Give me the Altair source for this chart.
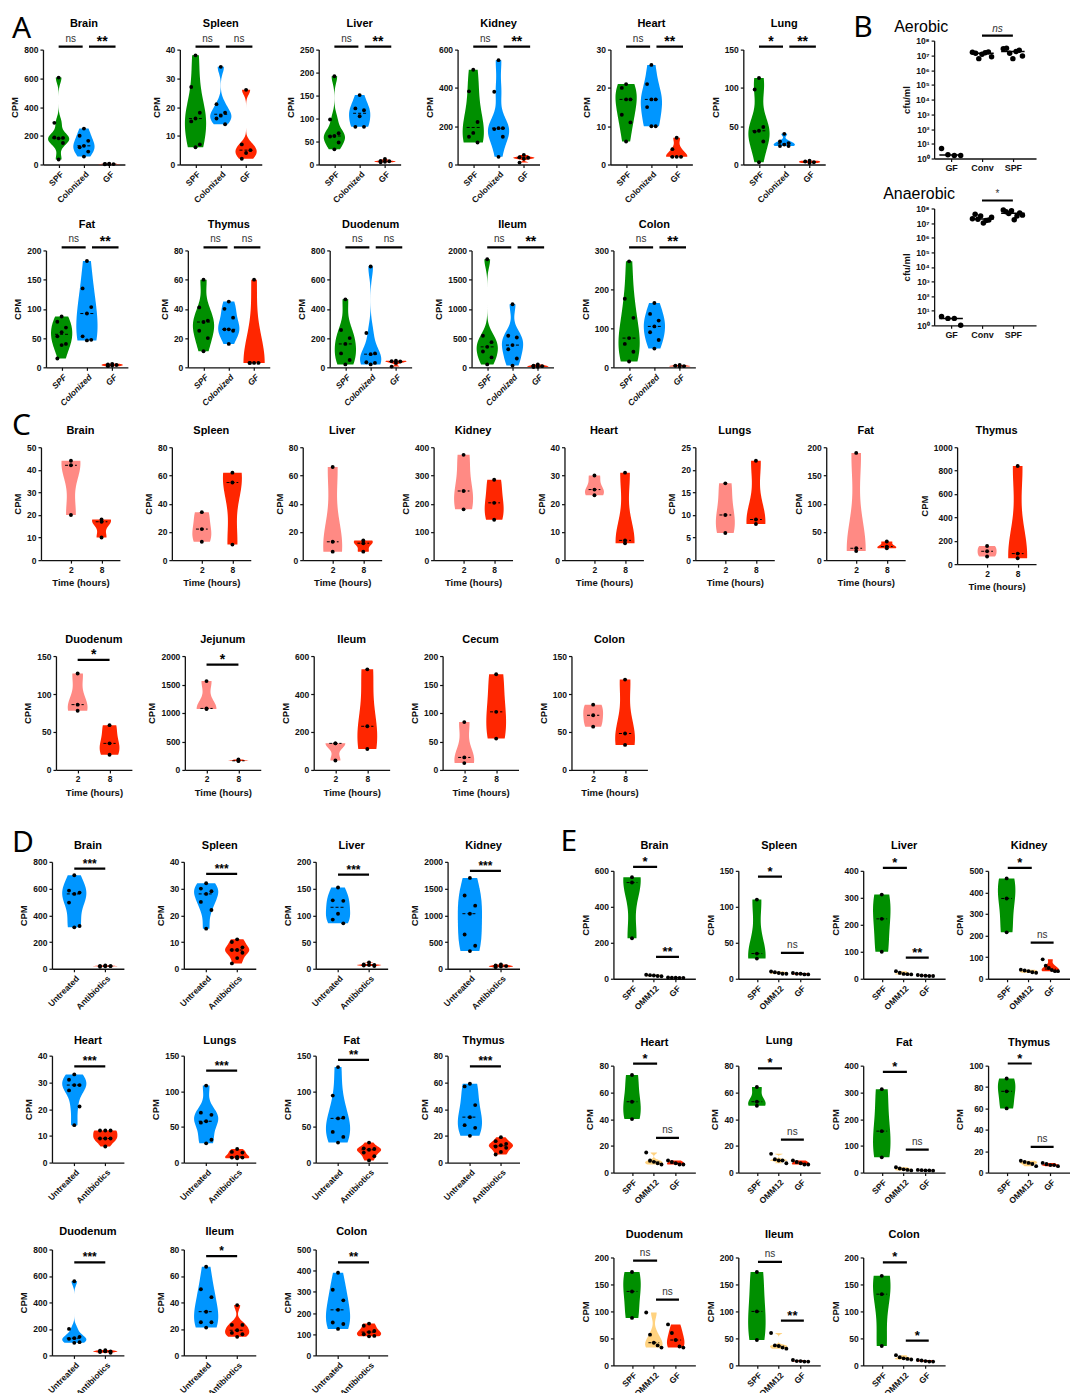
import json
import statistics
import altair as alt
from altair.utils import schemapi

try:
    schemapi.disable_debug_mode()
except Exception:
    schemapi.DEBUG_MODE = False

FONT = "Liberation Sans"
LETTER_FONT = "Noto Sans"
GREEN = "#008F00"
BLUE = "#0096FF"
RED = "#FF2600"
PINK = "#FF8A84"
YELLOW = "#FFD27F"

A_GROUPS = ["SPF", "Colonized", "GF"]
B_GROUPS = ["GF", "Conv", "SPF"]
C_GROUPS = ["2", "8"]
D_GROUPS = ["Untreated", "Antibiotics"]
E_GROUPS = ["SPF", "OMM12", "GF"]

# ---------------- A: SPF / Colonized / GF ----------------
A_BRAIN = [[605, 290, 185, 182, 188, 150, 35], [250, 200, 165, 130, 120, 90, 55], [5, 4, 3, 2, 2]]
A_SPLEEN = [[38, 27, 18, 16, 15, 7, 6], [34, 21, 18, 17, 16, 14], [26, 7, 5, 4, 2]]
A_LIVER = [[192, 98, 68, 62, 61, 48, 33], [151, 122, 118, 105, 82, 82], [12, 8, 7, 6, 5]]
A_KIDNEY = [[495, 382, 222, 165, 145, 115], [545, 380, 190, 190, 185, 145, 40], [50, 38, 35, 30, 10]]
A_HEART = [[21, 20, 17, 17, 13, 11, 6], [26, 21, 17, 17, 15, 10, 10], [7, 4, 2, 2, 2]]
A_LUNG = [[113, 98, 49, 44, 43, 30, 3], [40, 30, 28, 26, 24, 24], [5, 4, 3, 2]]
A_FAT = [[87, 78, 68, 60, 53, 40, 38, 15], [182, 135, 103, 92, 53, 47, 46], [6, 5, 4, 3, 2]]
A_THYMUS = [[60, 41, 32, 31, 25, 20, 11], [45, 40, 34, 26, 26, 25, 16], [60, 3, 3, 3, 3]]
A_DUODENUM = [[465, 255, 200, 160, 95, 50, 20], [690, 235, 95, 90, 35, 30, 20], [45, 42, 40, 30, 5]]
A_ILEUM = [[1850, 540, 430, 350, 270, 170, 50], [1080, 540, 510, 380, 310, 150, 30], [50, 30, 20, 10, 5]]
A_COLON = [[272, 176, 127, 75, 60, 40, 15], [165, 137, 120, 105, 90, 70, 48], [6, 4, 3, 2]]

# ---------------- B: cfu/ml ----------------
B_AEROBIC = [[4.8, 1.8, 1.6, 1.6],
             [1.6e7, 1.4e7, 6e6, 1.2e7, 1.5e7, 1.7e7, 8e6],
             [2.8e7, 3e7, 1.4e7, 6e6, 1.8e7, 2.2e7, 9e6]]
B_ANAEROBIC = [[4, 3, 3, 1],
               [2e7, 4e7, 1.8e7, 3e7, 1e7, 1.5e7, 1.6e7, 2.5e7],
               [8e7, 6e7, 4.5e7, 7e7, 1.7e7, 3e7, 5e7, 3.5e7]]

# ---------------- C: 2 h / 8 h ----------------
C_BRAIN = [[44, 42, 20], [18, 17, 10]]
C_SPLEEN = [[34, 22, 13], [62, 55, 11]]
C_LIVER = [[66, 13, 6], [14, 12, 6]]
C_KIDNEY = [[373, 245, 180], [285, 203, 143]]
C_HEART = [[30, 25, 23], [31, 7, 6]]
C_LUNGS = [[17, 10, 6], [22, 9, 8]]
C_FAT = [[190, 21, 16], [33, 24, 21]]
C_THYMUS = [[155, 110, 65], [840, 90, 50]]
C_DUODENUM = [[127, 86, 78], [59, 35, 20]]
C_JEJUNUM = [[1560, 1080, 1070], [185, 160, 155]]
C_ILEUM = [[140, 140, 50], [530, 230, 110]]
C_CECUM = [[84, 22, 12], [168, 102, 55]]
C_COLON = [[86, 72, 57], [119, 48, 33]]

# ---------------- D: Untreated / Antibiotics ----------------
D_BRAIN = [[700, 585, 570, 560, 495, 320, 310], [25, 22, 20, 18, 15, 20]]
D_SPLEEN = [[32, 30, 29, 28, 25, 22, 15], [11, 10, 8, 7, 7, 6, 4, 2]]
D_LIVER = [[152, 128, 127, 103, 92, 85], [12, 8, 7, 7, 6, 5]]
D_KIDNEY = [[1700, 1370, 1180, 1030, 640, 430, 330], [80, 60, 50, 40, 30]]
D_HEART = [[33, 31, 29, 29, 27, 21, 14], [12, 12, 12, 9, 9, 9, 6]]
D_LUNGS = [[108, 70, 67, 58, 56, 32, 27], [19, 15, 14, 8, 7, 7, 6]]
D_FAT = [[134, 94, 63, 62, 43, 36, 28], [28, 20, 19, 18, 14, 9, 3]]
D_THYMUS = [[59, 57, 43, 34, 28, 26, 20], [19, 16, 14, 13, 12, 11, 8, 6]]
D_DUODENUM = [[560, 200, 140, 130, 125, 100, 95], [40, 35, 30, 30, 25, 20]]
D_ILEUM = [[67, 50, 44, 33, 25, 25, 21], [38, 23, 23, 19, 17, 16, 14]]
D_COLON = [[390, 310, 260, 215, 155, 148, 125], [150, 140, 115, 110, 100, 92, 90]]

# ---------------- E: SPF / OMM12 / GF ----------------
E_BRAIN = [[565, 535, 225], [22, 20, 18, 15, 14], [7, 6, 6, 5, 5]]
E_SPLEEN = [[110, 35, 28], [10, 9, 8, 7, 7], [8, 7, 7, 6, 6]]
E_LIVER = [[312, 222, 100], [28, 22, 18, 17, 16], [14, 12, 11, 10, 10]]
E_KIDNEY = [[465, 372, 215], [42, 38, 35, 30, 28], [90, 60, 50, 40, 35, 35]]
E_HEART = [[73, 53, 40], [15, 9, 8, 7, 6], [9, 8, 7, 6, 6]]
E_LUNG = [[64, 53, 50], [14, 10, 9, 9, 7], [9, 8, 7, 6, 6]]
E_FAT = [[312, 155, 57], [20, 15, 12, 10, 8], [10, 9, 8, 8, 7]]
E_THYMUS = [[88, 76, 60], [11, 10, 9, 8, 6], [9, 8, 7, 7, 6]]
E_DUODENUM = [[173, 137, 88], [98, 57, 42, 37, 33], [76, 60, 47, 35, 33]]
E_ILEUM = [[173, 100, 47], [60, 37, 36, 33, 31], [10, 8, 8, 7, 7]]
E_COLON = [[166, 132, 36], [19, 15, 13, 12, 11], [10, 9, 8, 7, 7]]

# panel specs: (title, data, y max, y step, significance)
A_ROW1 = [("Brain", A_BRAIN, 800, 200, ("ns", "**")), ("Spleen", A_SPLEEN, 40, 10, ("ns", "ns")),
          ("Liver", A_LIVER, 250, 50, ("ns", "**")), ("Kidney", A_KIDNEY, 600, 200, ("ns", "**")),
          ("Heart", A_HEART, 30, 10, ("ns", "**")), ("Lung", A_LUNG, 150, 50, ("*", "**"))]
A_ROW2 = [("Fat", A_FAT, 200, 50, ("ns", "**")), ("Thymus", A_THYMUS, 80, 20, ("ns", "ns")),
          ("Duodenum", A_DUODENUM, 800, 200, ("ns", "ns")), ("Ileum", A_ILEUM, 2000, 500, ("ns", "**")),
          ("Colon", A_COLON, 300, 100, ("ns", "**"))]
C_ROW1 = [("Brain", C_BRAIN, 50, 10, []), ("Spleen", C_SPLEEN, 80, 20, []), ("Liver", C_LIVER, 80, 20, []),
          ("Kidney", C_KIDNEY, 400, 100, []), ("Heart", C_HEART, 40, 10, []), ("Lungs", C_LUNGS, 25, 5, []),
          ("Fat", C_FAT, 200, 50, []), ("Thymus", C_THYMUS, 1000, 200, [])]
C_ROW2 = [("Duodenum", C_DUODENUM, 150, 50, [("*", 145)]), ("Jejunum", C_JEJUNUM, 2000, 500, [("*", 1850)]),
          ("Ileum", C_ILEUM, 600, 200, []), ("Cecum", C_CECUM, 200, 50, []), ("Colon", C_COLON, 150, 50, [])]
D_ROW1 = [("Brain", D_BRAIN, 800, 200, [("***", 750)]), ("Spleen", D_SPLEEN, 40, 10, [("***", 35.5)]),
          ("Liver", D_LIVER, 200, 50, [("***", 176)]), ("Kidney", D_KIDNEY, 2000, 500, [("***", 1830)])]
D_ROW2 = [("Heart", D_HEART, 40, 10, [("***", 36)]), ("Lungs", D_LUNGS, 150, 50, [("***", 129)]),
          ("Fat", D_FAT, 150, 50, [("**", 144)]), ("Thymus", D_THYMUS, 80, 20, [("***", 72)])]
D_ROW3 = [("Duodenum", D_DUODENUM, 800, 200, [("***", 702)]), ("Ileum", D_ILEUM, 80, 20, [("*", 75)]),
          ("Colon", D_COLON, 500, 100, [("**", 439)])]
E_ROW1 = [("Brain", E_BRAIN, 600, 200, [("*", 622), ("**", 122)]), ("Spleen", E_SPLEEN, 150, 50, [("*", 142), ("ns", 36)]),
          ("Liver", E_LIVER, 400, 100, [("*", 411), ("**", 78)]), ("Kidney", E_KIDNEY, 500, 100, [("*", 514), ("ns", 167)])]
E_ROW2 = [("Heart", E_HEART, 80, 20, [("*", 81.5), ("ns", 26)]), ("Lung", E_LUNG, 80, 20, [("*", 78), ("ns", 24.7)]),
          ("Fat", E_FAT, 400, 100, [("*", 377), ("ns", 86)]), ("Thymus", E_THYMUS, 100, 20, [("*", 102), ("ns", 24)])]
E_ROW3 = [("Duodenum", E_DUODENUM, 200, 50, [("ns", 194), ("ns", 122)]), ("Ileum", E_ILEUM, 200, 50, [("ns", 192), ("**", 83)]),
          ("Colon", E_COLON, 200, 50, [("*", 191), ("*", 46)])]

SUP_EXPR = "'10' + ['⁰','¹','²','³','⁴','⁵','⁶','⁷','⁸'][round(log(datum.value) / LN10)]"

ROWS = []
VALS = alt.NamedData(name="vals")
_pid_counter = [0]


def register(values):
    _pid_counter[0] += 1
    pid = "p%d" % _pid_counter[0]
    for gi, vals in enumerate(values):
        for k, v in enumerate(vals):
            ROWS.append({"pid": pid, "gi": gi, "k": k, "n": len(vals), "v": v})
    return pid


def inline(records):
    return alt.InlineData(values=records)


def trec(x, y, t, fs, fw="bold", ff=FONT, al="center", fst="normal", col="black", bl="alphabetic"):
    return {"x": x, "y": y, "t": t, "fs": fs, "fw": fw, "ff": ff, "al": al, "fst": fst, "col": col, "bl": bl}


def rrec(x1, x2, y1, y2, sw, dash, op=1):
    return {"x1": x1, "x2": x2, "y1": y1, "y2": y2, "sw": sw, "dash": dash, "op": op}


def rules_layer(recs, xs, ys, xa, ya):
    return alt.Chart(inline(recs)).mark_rule(color="black").encode(
        x=alt.X("x1:Q", scale=xs, axis=xa), x2="x2:Q",
        y=alt.Y("y1:Q", scale=ys, axis=ya), y2="y2:Q",
        strokeWidth=alt.StrokeWidth("sw:Q", scale=None),
        strokeDash=alt.StrokeDash("dash:N", scale=None),
        opacity=alt.Opacity("op:Q", scale=None))


def text_layer(recs, xs, ys, xa, ya):
    return alt.Chart(inline(recs)).mark_text(
        baseline={"expr": "datum.bl"}, font={"expr": "datum.ff"}, fontWeight={"expr": "datum.fw"},
        align={"expr": "datum.al"}, fontStyle={"expr": "datum.fst"}).encode(
        x=alt.X("x:Q", scale=xs, axis=xa), y=alt.Y("y:Q", scale=ys, axis=ya), text="t:N",
        size=alt.Size("fs:Q", scale=None), color=alt.Color("col:N", scale=None))


def violin_panel(title, groups, colors, values, ymax, ystep, sig, w, h, xdom, frame,
                 angle=315, italic=False, xtitle=None, toff=13, jitter="cycle",
                 hw=0.42, star_size=12, letter=None):
    L, R, T, B = frame
    pid = register(values)
    fx = lambda px: xdom[0] + px / w * (xdom[1] - xdom[0])
    fy = lambda py: ymax * (h - py) / h
    xs = alt.Scale(domain=xdom, nice=False, zero=False)
    ys = alt.Scale(domain=[0, ymax], nice=False, zero=True)
    xkw = dict(values=list(range(len(groups))), labelExpr=json.dumps(groups) + "[datum.value]",
               labelAngle=angle, title=xtitle, tickSize=3, labelPadding=2, labelOverlap=False)
    if italic:
        xkw["labelFontStyle"] = "italic"
    xa = alt.Axis(**xkw)
    ya = alt.Axis(values=list(range(0, ymax + 1, ystep)), title="CPM", tickSize=3, titlePadding=4,
                  format="d", labelOverlap=False)
    base = alt.Chart(VALS).transform_filter(f"datum.pid == '{pid}'")
    area = (base
            .transform_joinaggregate(lo="min(v)", hi="max(v)", groupby=["gi"])
            .transform_calculate(u="(datum.v - datum.lo) / max(datum.hi - datum.lo, 1e-9)")
            .transform_density("u", as_=["u", "density"], groupby=["gi", "lo", "hi"], extent=[0, 1], steps=60)
            .transform_joinaggregate(maxd="max(density)", groupby=["gi"])
            .transform_calculate(vv="datum.lo + datum.u * (datum.hi - datum.lo)",
                                 x1=f"datum.gi - {hw} * datum.density / datum.maxd",
                                 x2=f"datum.gi + {hw} * datum.density / datum.maxd",
                                 col=json.dumps(colors) + "[datum.gi]")
            .mark_area(orient="horizontal", opacity=1)
            .encode(y=alt.Y("vv:Q", scale=ys, axis=ya),
                    x=alt.X("x1:Q", scale=xs, axis=xa, stack=None), x2="x2:Q",
                    color=alt.Color("col:N", scale=None), detail="gi:N"))
    if jitter == "cycle":
        jexpr = "datum.gi + [0, -0.17, 0.17][datum.k % 3]"
    else:
        jexpr = "datum.gi + (datum.n <= 3 ? 0 : (datum.k / (datum.n - 1) - 0.5) * 0.7)"
    pts = (base.transform_calculate(px=jexpr)
           .mark_circle(size=15, color="black", opacity=1)
           .encode(x=alt.X("px:Q", scale=xs, axis=xa), y=alt.Y("v:Q", scale=ys, axis=ya)))
    # rules: invisible layout frame, medians, significance bars
    mw = hw * 0.62
    rules = [rrec(fx(-L), fx(w + R), fy(-T), fy(h + B), 1, [1, 0], 0)]
    for gi, vals in enumerate(values):
        m = statistics.median(vals)
        rules.append(rrec(gi - mw, gi + mw, m, m, 1, [3, 2]))
    per_px = ymax / h
    texts = [trec(fx(w / 2), fy(-toff), title, 11)]
    for a, b, lab, y in sig:
        rules.append(rrec(a, b, y, y, 2.2, [1, 0]))
        if lab == "ns":
            texts.append(trec((a + b) / 2, y + 5 * per_px, lab, 10, "normal", col="#333"))
        else:
            texts.append(trec((a + b) / 2, y + 1 * per_px, lab, star_size))
    if letter:
        texts.append(trec(fx(letter[1]), fy(letter[2]), letter[0], 30, "normal", LETTER_FONT, "left", bl="top"))
    layers = [area, pts, rules_layer(rules, xs, ys, xa, ya), text_layer(texts, xs, ys, xa, ya)]
    return alt.layer(*layers).properties(width=w, height=h)


def dot_panel(name, values, sig_label, sig_y, w, h, name_dx, ns_italic, frame, letter=None):
    L, R, T, B = frame
    pid = register(values)
    xdom = [-0.55, 2.75]
    fx = lambda px: xdom[0] + px / w * (xdom[1] - xdom[0])
    fy = lambda py: 10 ** (8 * (h - py) / h)
    xs = alt.Scale(domain=xdom, nice=False, zero=False)
    ys = alt.Scale(type="log", domain=[1, 1e8], nice=False)
    xa = alt.Axis(values=[0, 1, 2], labelExpr=json.dumps(B_GROUPS) + "[datum.value]",
                  labelAngle=0, title=None, tickSize=3, labelFontSize=9, labelOverlap=False)
    ya = alt.Axis(values=[10 ** i for i in range(9)], labelExpr=SUP_EXPR, title="cfu/ml",
                  tickSize=3, titlePadding=4, labelOverlap=False)
    base = alt.Chart(VALS).transform_filter(f"datum.pid == '{pid}'")
    pts = (base.transform_calculate(px="datum.gi + (datum.k / (datum.n - 1) - 0.5) * 0.62")
           .mark_circle(size=30, color="black", opacity=1)
           .encode(x=alt.X("px:Q", scale=xs, axis=xa), y=alt.Y("v:Q", scale=ys, axis=ya)))
    rules = [rrec(fx(-L), fx(w + R), fy(-T), fy(h + B), 1, [1, 0], 0),
             rrec(1.0, 2.0, sig_y, sig_y, 2.2, [1, 0])]
    for gi, vals in enumerate(values):
        m = statistics.median(vals)
        rules.append(rrec(gi - 0.38, gi + 0.38, m, m, 1.5, [1, 0]))
    texts = [trec(fx(name_dx), fy(-9), name, 16, "normal", al="left"),
             trec(1.5, sig_y * 10 ** (8 * 4 / h), sig_label, 10, "normal",
                  fst="italic" if ns_italic else "normal", col="#333")]
    if letter:
        texts.append(trec(fx(letter[1]), fy(letter[2]), letter[0], 30, "normal", LETTER_FONT, "left", bl="top"))
    layers = [pts, rules_layer(rules, xs, ys, xa, ya), text_layer(texts, xs, ys, xa, ya)]
    return alt.layer(*layers).properties(width=w, height=h)


def spacer():
    return alt.Chart(inline([{"s": 0}])).mark_rect(opacity=0).encode(
        x=alt.value(0), x2=alt.value(1), y=alt.value(0), y2=alt.value(1)).properties(width=1, height=1)


def frames(X, W, FL, T, B):
    out = []
    for i, x in enumerate(X):
        L = x - FL if i == 0 else x - (X[i - 1] + W)
        out.append((L, 0, T, B))
    return out


def hrow(charts):
    return alt.hconcat(*charts, spacing=0)


def vcol(charts):
    return alt.vconcat(*charts, spacing=0)


def leaf_row(panels):
    return hrow([spacer()] + panels)


def block(rows):
    return vcol([spacer()] + rows)


# ---------------- A ----------------
def a_panel(spec, h, toff, italic, frame, letter=None):
    name, vals, ymax, step, (l1, l2) = spec
    yb = ymax * 1.026
    sig = [(0, 0.95, l1, yb), (1.2, 2.25, l2, yb)]
    return violin_panel(name, A_GROUPS, [GREEN, BLUE, RED], vals, ymax, step, sig, 82, h,
                        [-0.62, 2.62], frame, italic=italic, toff=toff, star_size=14, letter=letter)


fa1 = frames([43, 180, 318, 456, 609, 742], 82, 9, 39, 42)
fa2 = frames([46, 188, 330, 472, 614], 82, 9, 44, 40)
a1 = [a_panel(s, 115, 23, False, fa1[i], ("A", -31, -36) if i == 0 else None) for i, s in enumerate(A_ROW1)]
a2 = [a_panel(s, 117, 22, True, fa2[i]) for i, s in enumerate(A_ROW2)]
A_block = block([leaf_row(a1), leaf_row(a2)])

B_block = block([
    dot_panel("Aerobic", B_AEROBIC, "ns", 2.2e8, 102, 118, -40, True, (109, 0, 31, 20), ("B", -81, -28)),
    dot_panel("Anaerobic", B_ANAEROBIC, "*", 3.5e8, 102, 117, -51, False, (109, 0, 30, 40)),
])
AB = hrow([A_block, B_block])


# ---------------- C ----------------
def c_panel(spec, w, h, toff, xdom, frame, letter=None):
    name, vals, ymax, step, s = spec
    sig = [(0, 1, lab, y) for lab, y in s]
    return violin_panel(name, C_GROUPS, [PINK, RED], vals, ymax, step, sig, w, h, xdom, frame,
                        angle=0, xtitle="Time (hours)", toff=toff, jitter="linear", hw=0.31,
                        star_size=14, letter=letter)


X_C1 = [41 + 130.5 * i for i in range(8)]
fc1 = frames(X_C1, 79, 9, 39, 40)
c1 = []
for i, s in enumerate(C_ROW1):
    L, R, T, B = fc1[i]
    if s[0] == "Thymus":
        c1.append(c_panel(s, 79, 117, 13, [-0.98, 1.6], (L, R, T, 36)))
    else:
        c1.append(c_panel(s, 79, 113, 13, [-0.98, 1.6], (L, R, T, B), ("C", -29, -36) if i == 0 else None))
X_C2 = [56 + 128.5 * i for i in range(5)]
fc2 = frames(X_C2, 76, 9, 55, 40)
c2 = [c_panel(s, 76, 114, 13, [-0.68, 1.7], fc2[i]) for i, s in enumerate(C_ROW2)]


# ---------------- D ----------------
def d_panel(spec, h, toff, frame, letter=None):
    name, vals, ymax, step, s = spec
    sig = [(0, 1, lab, y) for lab, y in s]
    return violin_panel(name, D_GROUPS, [BLUE, RED], vals, ymax, step, sig, 72, h, [-0.72, 1.6], frame,
                        toff=toff, hw=0.39, star_size=12, letter=letter)


X_D = [52 + 131 * i for i in range(4)]
fd1 = frames(X_D, 72, 9, 50, 44)
fd2 = frames(X_D, 72, 9, 43, 44)
fd3 = frames(X_D[:3], 72, 9, 43, 39)
d1 = [d_panel(s, 107, 13, fd1[i], ("D", -40, -34) if i == 0 else None) for i, s in enumerate(D_ROW1)]
d2 = [d_panel(s, 107, 12, fd2[i]) for i, s in enumerate(D_ROW2)]
d3 = [d_panel(s, 106, 14, fd3[i]) for i, s in enumerate(D_ROW3)]
D_block = block([leaf_row(d1), leaf_row(d2), leaf_row(d3)])


# ---------------- E ----------------
def e_panel(spec, h, toff, frame, letter=None):
    name, vals, ymax, step, s = spec
    sig = [(0.05, 1.15, s[0][0], s[0][1]), (1.1, 2.15, s[1][0], s[1][1])]
    return violin_panel(name, E_GROUPS, [GREEN, YELLOW, RED], vals, ymax, step, sig, 82, h, [-0.85, 2.9],
                        frame, toff=toff, jitter="linear", hw=0.4, star_size=13, letter=letter)


X_E = [611 + 125 * i for i in range(4)]
fe1 = frames(X_E, 82, 518, 60, 34)
fe2 = frames(X_E, 82, 518, 53, 33)
fe3 = frames(X_E[:3], 82, 518, 50, 30)
e1 = [e_panel(s, 108, 22, fe1[i], ("E", -53, -44) if i == 0 else None) for i, s in enumerate(E_ROW1)]
e2 = [e_panel(s, 107, 22 if s[0] == "Lung" else 20, fe2[i]) for i, s in enumerate(E_ROW2)]
e3 = [e_panel(s, 108, 19, fe3[i]) for i, s in enumerate(E_ROW3)]
E_block = block([leaf_row(e1), leaf_row(e2), leaf_row(e3)])

DE = hrow([D_block, E_block])

chart = vcol([AB, leaf_row(c1), leaf_row(c2), DE]).properties(
    background="white", padding=0, datasets={"vals": ROWS}).configure_view(
    stroke=None).configure_axis(
    labelFont=FONT, titleFont=FONT, labelFontWeight="bold", titleFontWeight="bold",
    labelFontSize=8.5, titleFontSize=9.5, labelColor="#111", titleColor="#111",
    domainColor="#111", tickColor="#111", domainWidth=1.3, tickWidth=1.2, grid=False)

_orig_to_dict = type(chart).to_dict


def _fast_to_dict(*args, **kwargs):
    kwargs["validate"] = False
    return _orig_to_dict(chart, *args, **kwargs)


object.__setattr__(chart, "to_dict", _fast_to_dict)

chart.save("out.html", embed_options={"renderer": "svg", "actions": False})
